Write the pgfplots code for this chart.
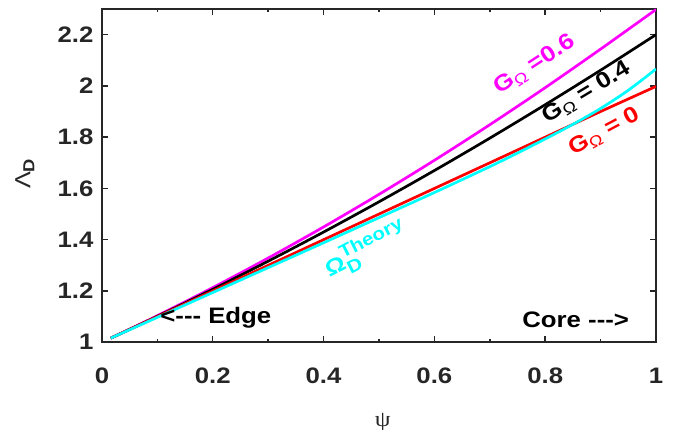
\documentclass[border=0pt]{standalone}
\usepackage{fontspec}
\setmainfont{Liberation Sans}[FakeStretch=1.15]
\newfontfamily\grserif{Liberation Serif}[FakeStretch=1.15]
\usepackage{pgfplots}
\pgfplotsset{compat=1.18}
\definecolor{axgray}{HTML}{262626}
\definecolor{mmag}{HTML}{FF00FF}
\definecolor{mcyan}{HTML}{00FFFF}
\definecolor{mred}{HTML}{FF0000}
\newcommand{\lblfont}{\fontsize{22.5}{26}\selectfont\bfseries}
\newcommand{\subfont}{\fontsize{16}{19}\selectfont}
\newcommand{\GO}{G\raisebox{-0.35ex}{\subfont\mdseries Ω}}

\begin{document}
\begin{tikzpicture}
\useasboundingbox (-102bp,-87.5bp) rectangle (574.5bp,342.5bp);
\begin{axis}[
    scale only axis,
    width=554.5bp, height=333.5bp,
    xmin=0, xmax=1, ymin=1, ymax=2.3,
    xtick={0,0.2,0.4,0.6,0.8,1},
    ytick={1,1.2,1.4,1.6,1.8,2,2.2},
    minor x tick num=1,
    axis line style={axgray, line width=1.5bp},
    tick style={axgray, line width=1.5bp},
    major tick length=6bp, minor tick length=3bp,
    ticklabel style={font=\fontsize{22.5}{26}\selectfont\bfseries, text=axgray},
    xticklabel style={yshift=-22bp},
    yticklabel style={xshift=-5bp},
    /pgf/number format/assume math mode=true,
    xlabel={\grserif\fontsize{22}{26}\selectfont ψ},
    ylabel={\fontsize{22}{26}\selectfont Λ\raisebox{-0.35ex}{\subfont\bfseries D}},
    xlabel style={at={(axis description cs:0.507,-0.24)}, anchor=center, text=axgray},
    ylabel style={at={(axis description cs:-0.139,0.505)}, anchor=center, text=axgray},
    every axis plot/.append style={line width=2.7bp, smooth},
]

% G_Omega = 0.6
\addplot[color=mmag] coordinates {
    (0.016,1.016) (0.1,1.1036) (0.2,1.2131) (0.3,1.3285) (0.4,1.4497)
    (0.5,1.5768) (0.6,1.7097) (0.7,1.8485) (0.8,1.9931) (0.9,2.1436) (1.0,2.298)
};
% G_Omega = 0.4
\addplot[color=black] coordinates {
    (0.016,1.016) (0.1,1.1012) (0.2,1.2066) (0.3,1.3161) (0.4,1.4298)
    (0.5,1.5478) (0.6,1.6698) (0.7,1.7961) (0.8,1.9266) (0.9,2.0612) (1.0,2.2)
};
% G_Omega = 0
\addplot[color=mred] coordinates {
    (0.016,1.016) (0.1,1.1) (0.2,1.2) (0.3,1.3) (0.4,1.4)
    (0.5,1.5) (0.6,1.6) (0.7,1.7) (0.8,1.8) (0.9,1.9) (1.0,1.998)
};
% Omega_D theory
\addplot[color=mcyan] coordinates {
    (0.016,1.016) (0.1,1.097) (0.2,1.194) (0.3,1.291) (0.4,1.388)
    (0.5,1.486) (0.6,1.584) (0.7,1.685) (0.75,1.738) (0.8,1.793)
    (0.85,1.85) (0.9,1.912) (0.95,1.983) (1.0,2.066)
};

\node[rotate=33, text=mmag, font=\lblfont] at (axis cs:0.781,2.082) {\GO\ =0.6};
\node[rotate=31, text=black, font=\lblfont] at (axis cs:0.875,1.973) {\GO\ = 0.4};
\node[rotate=28, text=mred, font=\lblfont] at (axis cs:0.907,1.821) {\GO\ = 0};
\node[rotate=27, text=mcyan, font=\lblfont] at (axis cs:0.476,1.361)
    {\fontsize{22}{26}\selectfont$\mbox{\bfseries Ω}_{\mbox{\fontsize{18}{21}\selectfont\bfseries D}}^{\mbox{\fontsize{18}{21}\selectfont\bfseries Theory}}$};
\node[font=\lblfont] at (axis cs:0.2056,1.0955) {<{-}{-}{-} Edge};
\node[font=\lblfont] at (axis cs:0.855,1.088) {Core {-}{-}{-}>};

\end{axis}
\end{tikzpicture}
\end{document}
